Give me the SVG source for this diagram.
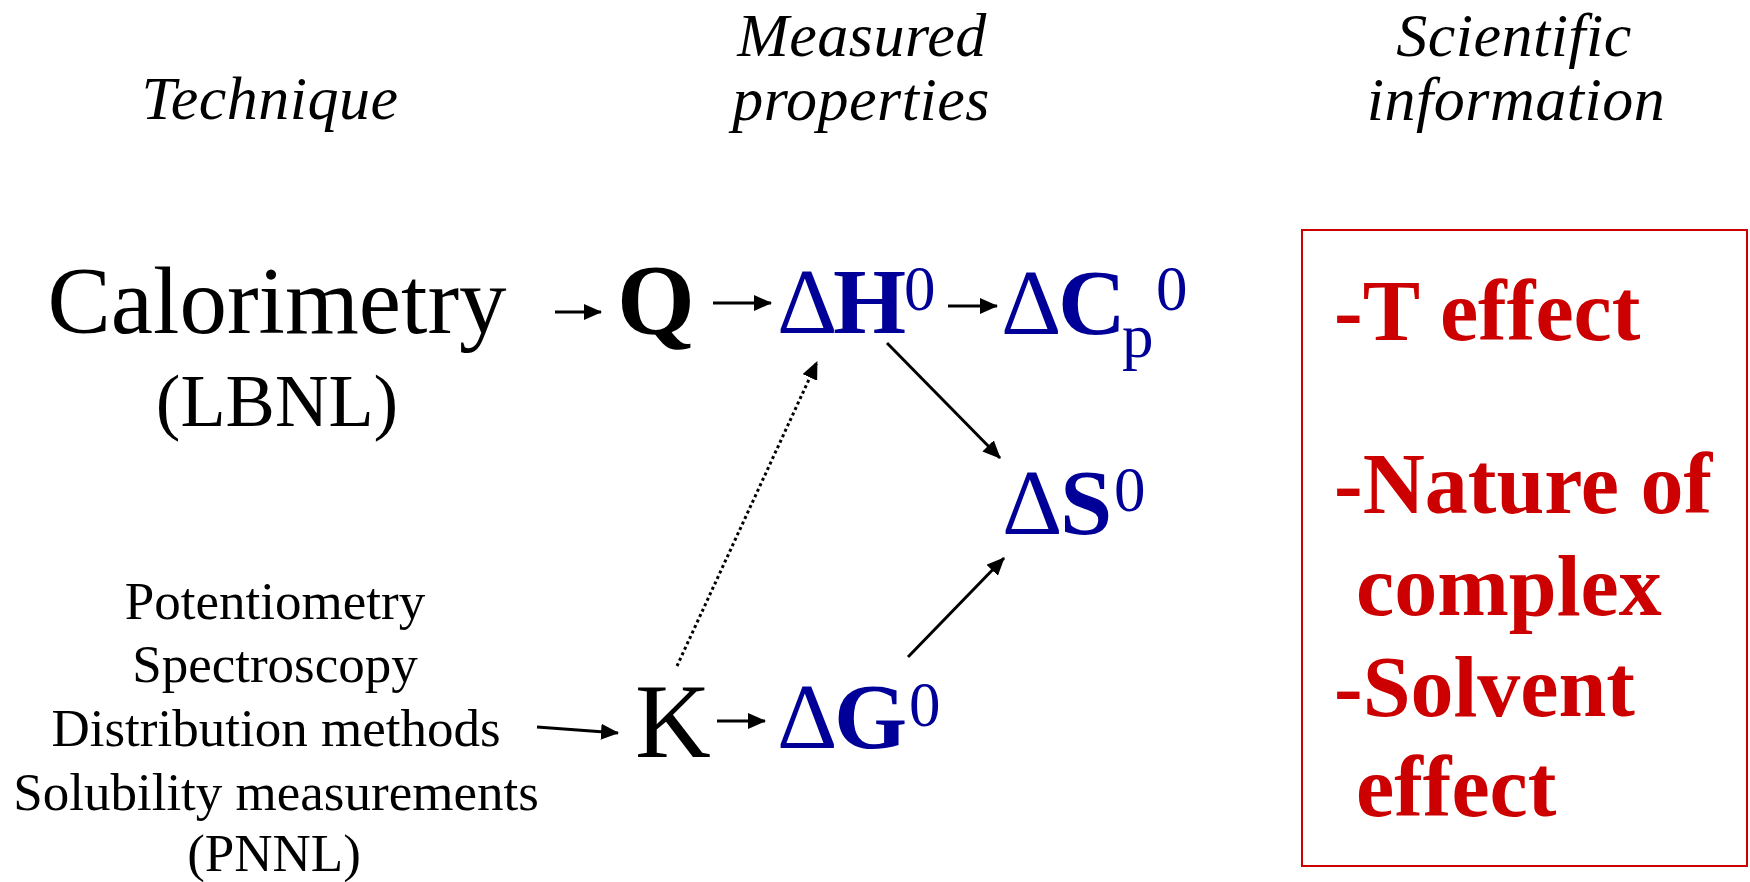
<svg xmlns="http://www.w3.org/2000/svg" width="1750" height="882" viewBox="0 0 1750 882">
<defs>
<style>
text{font-family:"Liberation Serif","Times New Roman",serif;}
.hdr{font-size:62px;font-style:italic;fill:#000;text-anchor:middle;letter-spacing:0.5px;}
.blk{fill:#000;}
.blue{fill:#000099;font-size:94px;}
.b{font-weight:bold;}
.sup{font-size:63px;font-weight:normal;}
.red{fill:#CC0000;font-size:86px;font-weight:bold;}
.list{font-size:53px;fill:#000;text-anchor:middle;}
.con{stroke:#000;stroke-width:3;fill:none;marker-end:url(#ah);}
</style>
<marker id="ah" markerUnits="userSpaceOnUse" markerWidth="18" markerHeight="16" refX="17" refY="8" orient="auto">
<path d="M0,0 L18,8 L0,16 z" fill="#000"/>
</marker>
</defs>
<rect width="1750" height="882" fill="#fff"/>
<g id="headers">
<text class="hdr" x="270" y="119">Technique</text>
<text class="hdr" x="862" y="56">Measured</text>
<text class="hdr" x="861" y="120">properties</text>
<text class="hdr" x="1514" y="56">Scientific</text>
<text class="hdr" x="1516" y="120">information</text>
</g>
<g id="calorimetry">
<text class="blk" x="277" y="333" font-size="95" text-anchor="middle">Calorimetry</text>
<text class="blk" x="277" y="426" font-size="74" text-anchor="middle">(LBNL)</text>
</g>
<g id="techniques">
<text class="list" x="275" y="619">Potentiometry</text>
<text class="list" x="275" y="682">Spectroscopy</text>
<text class="list" x="276" y="746">Distribution methods</text>
<text class="list" x="276" y="810">Solubility measurements</text>
<text class="list" x="274" y="871">(PNNL)</text>
</g>
<g id="Q"><text class="blk b" x="617" y="333" font-size="100">Q</text></g>
<g id="K"><text class="blk" x="635" y="757" font-size="105">K</text></g>
<g id="dH"><text class="blue"><tspan x="777" y="333">Δ</tspan><tspan class="b" x="833" y="333">H</tspan><tspan class="sup" x="904" y="310">0</tspan></text></g>
<g id="dCp"><text class="blue"><tspan x="1001" y="334">Δ</tspan><tspan class="b" x="1058" y="334">C</tspan><tspan class="sup" x="1122" y="357">p</tspan><tspan class="sup" x="1156" y="310">0</tspan></text></g>
<g id="dS"><text class="blue"><tspan x="1002" y="534">Δ</tspan><tspan class="b" x="1060" y="534">S</tspan><tspan class="sup" x="1114" y="511">0</tspan></text></g>
<g id="dG"><text class="blue"><tspan x="777" y="748">Δ</tspan><tspan class="b" x="834" y="748">G</tspan><tspan class="sup" x="909" y="726">0</tspan></text></g>
<g id="info">
<rect x="1302" y="230" width="445" height="636" fill="none" stroke="#CC0000" stroke-width="2"/>
<text class="red" x="1334" y="340">-T effect</text>
<text class="red" x="1334" y="513">-Nature of</text>
<text class="red" x="1356" y="615">complex</text>
<text class="red" x="1334" y="716">-Solvent</text>
<text class="red" x="1356" y="816">effect</text>
</g>
<g id="connectors">
<line class="con" x1="555" y1="312" x2="601" y2="312"/>
<line class="con" x1="713" y1="303" x2="771" y2="303"/>
<line class="con" x1="948" y1="306" x2="997" y2="306"/>
<line class="con" x1="887" y1="343" x2="1000" y2="458"/>
<line class="con" x1="677" y1="666" x2="817" y2="362" stroke-dasharray="3 3"/>
<line class="con" x1="908" y1="657" x2="1004" y2="558"/>
<line class="con" x1="717" y1="721" x2="765" y2="721"/>
<line class="con" x1="537" y1="727" x2="618" y2="733"/>
</g>
</svg>
